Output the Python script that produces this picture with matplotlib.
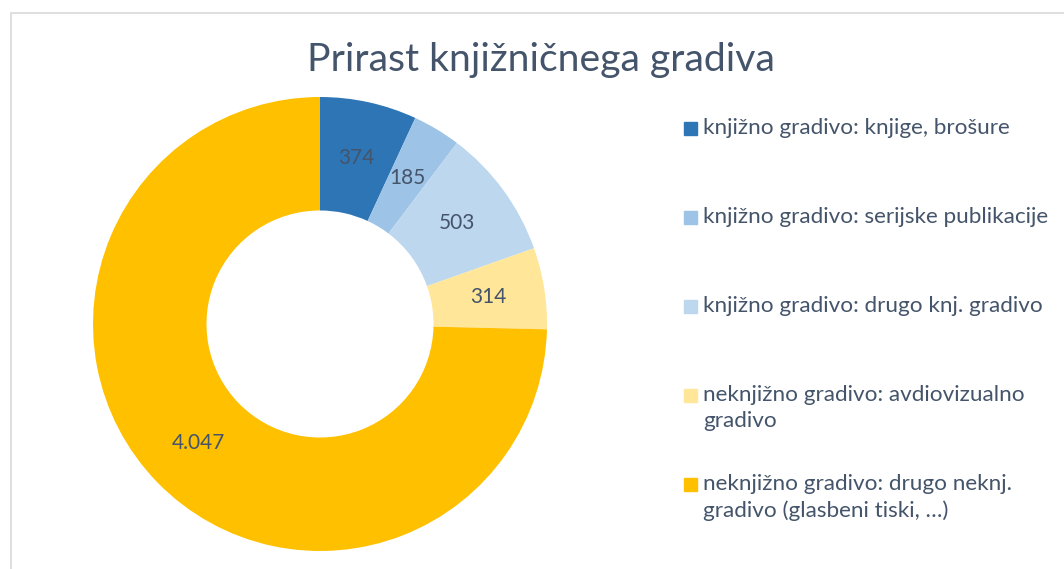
import matplotlib.pyplot as plt
from matplotlib.patches import Rectangle
import numpy as np

# podatki
kategorije = [
    "knjižno gradivo: knjige, brošure",
    "knjižno gradivo: serijske publikacije",
    "knjižno gradivo: drugo knj. gradivo",
    "neknjižno gradivo: avdiovizualno\ngradivo",
    "neknjižno gradivo: drugo neknj.\ngradivo (glasbeni tiski, …)",
]
vrednosti = [374, 185, 503, 314, 4047]
oznake = ["374", "185", "503", "314", "4.047"]
barve = ["#2E75B6", "#9DC3E6", "#BDD7EE", "#FFE699", "#FFC000"]

W, H = 1064, 569
tekst_barva = "#44546A"
plt.rcParams['font.family'] = ['Lato', 'DejaVu Sans']

fig = plt.figure(figsize=(W / 100, H / 100), dpi=100)

# okvir grafikona
fig.add_artist(Rectangle((10.5 / W, -0.1), 1.2, (H - 13) / H + 0.1,
                         transform=fig.transFigure, fill=False,
                         edgecolor="#D9D9D9", linewidth=1.2))

# kolobar
cx, cy, r = 320, H - 324, 227
ax = fig.add_axes([(cx - r) / W, (cy - r) / H, 2 * r / W, 2 * r / H])
wedges, _ = ax.pie(vrednosti, colors=barve, startangle=90, counterclock=False,
                   radius=1, wedgeprops=dict(width=0.5, linewidth=0))
ax.set_xlim(-1, 1)
ax.set_ylim(-1, 1)
ax.axis("off")

# oznake vrednosti
for w, txt in zip(wedges, oznake):
    kot = np.deg2rad((w.theta1 + w.theta2) / 2)
    ax.text(0.75 * np.cos(kot), 0.75 * np.sin(kot), txt, ha="center", va="center",
            fontsize=15, color=tekst_barva)

# naslov
fig.text(541 / W, 1 - 60 / H, "Prirast knjižničnega gradiva", ha="center", va="center",
         fontsize=28.2, color=tekst_barva)

# legenda
leg_y = [129, 218, 307, 396, 485]
for kat, barva, y in zip(kategorije, barve, leg_y):
    fig.add_artist(Rectangle((684 / W, 1 - (y + 6) / H), 13 / W, 13 / H,
                             transform=fig.transFigure, color=barva))
    fig.text(703 / W, 1 - (y - 11) / H, kat, ha="left", va="top",
             fontsize=16.2, color=tekst_barva, linespacing=1.4)

fig.savefig("out.png", dpi=100)
